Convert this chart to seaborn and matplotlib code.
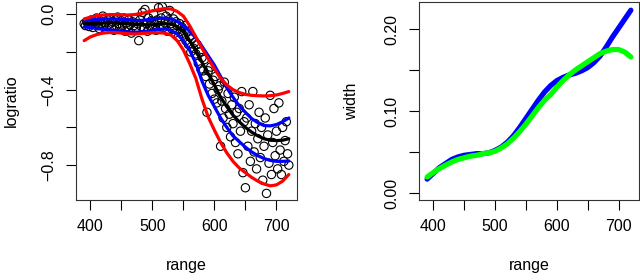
import numpy as np
import pandas as pd
import matplotlib
matplotlib.use("Agg")
import matplotlib.pyplot as plt
import seaborn as sns

# scatter data
range_pts = [
    390, 392, 394, 396, 398, 400, 402, 404, 406, 408,
    410, 412, 414, 416, 418, 420, 422, 424, 426, 428,
    430, 432, 434, 436, 438, 440, 442, 444, 446, 448,
    450, 452, 454, 456, 458, 460, 462, 464, 466, 468,
    470, 472, 474, 476, 478, 480, 482, 484, 486, 488,
    490, 492, 494, 496, 498, 500, 502, 504, 506, 508,
    510, 512, 514, 516, 518, 520, 522, 524, 526, 528,
    530, 532, 534, 536, 538, 540, 542, 544, 546, 548,
    550, 552, 554, 556, 558, 560, 562, 564, 566, 568,
    570, 572, 574, 576, 578, 580, 582, 584, 586, 588,
    590, 592, 594, 596, 598, 600, 602, 604, 606, 608,
    610, 612, 614, 616, 618, 620, 622, 624, 626, 628,
    630, 632, 634, 636, 638, 640, 642, 644, 646, 648,
    650, 652, 654, 656, 658, 660, 662, 664, 666, 668,
    670, 672, 674, 676, 678, 680, 682, 684, 686, 688,
    690, 692, 694, 696, 698, 700, 702, 704, 706, 708,
    710, 712, 714, 716, 718, 720,
]
logratio = [
    -0.05, -0.06, -0.04, -0.045, -0.065, -0.055, -0.03, -0.07, -0.04, -0.05,
    -0.02, -0.06, -0.075, -0.035, -0.05, -0.01, -0.065, -0.045, -0.08, -0.03,
    -0.055, -0.02, -0.07, -0.04, -0.085, -0.03, -0.06, -0.015, -0.05, -0.075,
    -0.035, -0.06, -0.02, -0.09, -0.045, -0.065, -0.03, -0.055, -0.1, -0.04,
    -0.06, -0.025, -0.075, -0.05, -0.14, -0.03, -0.065, 0.01, -0.08, 0.025,
    -0.05, -0.09, -0.02, -0.06, -0.035, -0.075, 0.0, -0.055, -0.085, -0.03,
    0.035, -0.06, -0.02, 0.04, -0.07, -0.045, -0.01, -0.09, -0.03, 0.02,
    -0.05, -0.08, -0.025, -0.1, -0.04, -0.06, -0.12, -0.05, -0.09, -0.07,
    -0.11, -0.06, -0.14, -0.09, -0.16, -0.12, -0.2, -0.13, -0.18, -0.15,
    -0.21, -0.16, -0.26, -0.2, -0.29, -0.23, -0.3, -0.24, -0.33, -0.52,
    -0.3, -0.37, -0.28, -0.42, -0.35, -0.45, -0.33, -0.47, -0.4, -0.38,
    -0.7, -0.46, -0.55, -0.36, -0.5, -0.6, -0.42, -0.53, -0.65, -0.48,
    -0.58, -0.44, -0.68, -0.52, -0.74, -0.5, -0.62, -0.41, -0.84, -0.57,
    -0.92, -0.55, -0.7, -0.48, -0.78, -0.62, -0.41, -0.73, -0.58, -0.82,
    -0.66, -0.52, -0.76, -0.6, -0.88, -0.7, -0.55, -0.95, -0.64, -0.79,
    -0.43, -0.85, -0.68, -0.5, -0.75, -0.62, -0.82, -0.47, -0.72, -0.85,
    -0.6, -0.78, -0.67, -0.57, -0.74, -0.8,
]

# fitted curves on a grid
grid = [390, 400, 410, 420, 430, 440, 450, 460, 470, 480, 490, 500,
        510, 520, 530, 540, 550, 560, 570, 580, 590, 600, 610, 620,
        630, 640, 650, 660, 670, 680, 690, 700, 710, 720]
fit_mean = [-0.05, -0.05, -0.048, -0.046, -0.045, -0.046, -0.048, -0.05,
            -0.053, -0.055, -0.056, -0.056, -0.053, -0.05, -0.052, -0.065,
            -0.094, -0.14, -0.19, -0.255, -0.315, -0.375, -0.44, -0.49,
            -0.535, -0.57, -0.6, -0.625, -0.645, -0.66, -0.668, -0.67,
            -0.668, -0.66]
blue_upper = [-0.032, -0.03, -0.028, -0.026, -0.025, -0.025, -0.027, -0.03,
              -0.032, -0.033, -0.03, -0.026, -0.022, -0.02, -0.025, -0.038,
              -0.06, -0.09, -0.125, -0.17, -0.22, -0.27, -0.33, -0.39,
              -0.44, -0.485, -0.52, -0.553, -0.575, -0.59, -0.592, -0.585,
              -0.57, -0.55]
blue_lower = [-0.067, -0.07, -0.075, -0.08, -0.083, -0.086, -0.09, -0.093,
              -0.095, -0.094, -0.09, -0.085, -0.08, -0.078, -0.085, -0.105,
              -0.14, -0.19, -0.26, -0.355, -0.43, -0.49, -0.55, -0.6,
              -0.645, -0.675, -0.705, -0.73, -0.75, -0.765, -0.775, -0.78,
              -0.78, -0.778]
red_upper = [-0.025, -0.015, -0.008, -0.004, -0.002, -0.002, -0.003, -0.004,
             -0.002, 0.003, 0.01, 0.018, 0.025, 0.03, 0.028, 0.015,
             -0.01, -0.06, -0.12, -0.18, -0.235, -0.29, -0.34, -0.375,
             -0.4, -0.415, -0.425, -0.43, -0.432, -0.433, -0.432, -0.428,
             -0.42, -0.41]
red_lower = [-0.14, -0.12, -0.108, -0.1, -0.097, -0.097, -0.1, -0.103,
             -0.105, -0.103, -0.1, -0.098, -0.098, -0.1, -0.11, -0.14,
             -0.19, -0.26, -0.34, -0.45, -0.545, -0.615, -0.68, -0.735,
             -0.78, -0.815, -0.84, -0.865, -0.885, -0.9, -0.91, -0.905,
             -0.885, -0.85]

width_blue = [0.017, 0.024, 0.031, 0.036, 0.041, 0.044, 0.046, 0.047, 0.048,
              0.048, 0.049, 0.052, 0.056, 0.062, 0.07, 0.08, 0.091, 0.102,
              0.113, 0.123, 0.131, 0.137, 0.141, 0.144, 0.146, 0.149, 0.153,
              0.159, 0.167, 0.178, 0.19, 0.201, 0.212, 0.223]
width_green = [0.0195, 0.025, 0.03, 0.034, 0.038, 0.041, 0.043, 0.045, 0.046,
               0.048, 0.049, 0.051, 0.055, 0.06, 0.067, 0.075, 0.084, 0.094,
               0.104, 0.113, 0.12, 0.129, 0.137, 0.144, 0.15, 0.155, 0.16,
               0.165, 0.17, 0.173, 0.175, 0.175, 0.172, 0.166]

x_ticks = [400, 450, 500, 550, 600, 650, 700]
x_ticklabels = ["400", "", "500", "", "600", "", "700"]
left_yticks = [0.0, -0.2, -0.4, -0.6, -0.8]
left_yticklabels = ["0.0", "", "\u22120.4", "", "\u22120.8"]
right_yticks = [0.0, 0.05, 0.10, 0.15, 0.20]
right_yticklabels = ["0.00", "", "0.10", "", "0.20"]

sns.set_theme(style="white")
plt.rcParams["font.family"] = ["Liberation Sans", "DejaVu Sans"]

fig = plt.figure(figsize=(6.4, 2.8), dpi=100)
ax1 = fig.add_axes([76 / 640, 80 / 280, 221 / 640, 198 / 280])
ax2 = fig.add_axes([419 / 640, 80 / 280, 220 / 640, 198 / 280])

pts = pd.DataFrame({"range": range_pts, "logratio": logratio})
sns.scatterplot(data=pts, x="range", y="logratio", ax=ax1, marker="o",
                s=36, facecolor="none", edgecolor="black", linewidth=0.8)

curves = pd.DataFrame({"range": grid, "mean": fit_mean,
                       "bu": blue_upper, "bl": blue_lower,
                       "ru": red_upper, "rl": red_lower,
                       "wb": width_blue, "wg": width_green})
lw = 2.3
sns.lineplot(data=curves, x="range", y="mean", ax=ax1, color="black", lw=lw)
for col in ["bu", "bl"]:
    sns.lineplot(data=curves, x="range", y=col, ax=ax1, color="#0000FF", lw=lw)
for col in ["ru", "rl"]:
    sns.lineplot(data=curves, x="range", y=col, ax=ax1, color="#FF0000", lw=lw)

sns.lineplot(data=curves, x="range", y="wb", ax=ax2, color="#0000FF", lw=3.8,
             solid_capstyle="round")
sns.lineplot(data=curves, x="range", y="wg", ax=ax2, color="#00FF00", lw=3.8,
             solid_capstyle="round")

ax1.set_xlim(376.8, 733.2)
ax1.set_ylim(-0.985, 0.065)
ax2.set_xlim(376.8, 733.2)
ax2.set_ylim(-0.0085, 0.233)

for ax, yt, ytl, ylab in [(ax1, left_yticks, left_yticklabels, "logratio"),
                          (ax2, right_yticks, right_yticklabels, "width")]:
    ax.set_xticks(x_ticks)
    ax.set_xticklabels(x_ticklabels)
    ax.set_yticks(yt)
    ax.set_yticklabels(ytl, rotation=90, va="center")
    ax.tick_params(axis="both", direction="out", length=7, width=0.8,
                   color="black", labelsize=11.5, labelcolor="black", pad=7,
                   bottom=True, left=True)
    for sp in ax.spines.values():
        sp.set_color("#333333")
        sp.set_linewidth(0.8)
    ax.set_xlabel("range", fontsize=11.5, color="black")
    ax.set_ylabel(ylab, fontsize=11.5, color="black")
    ax.xaxis.set_label_coords(0.5, -0.33)
    ax.xaxis.label.set_va("center")
    ax.yaxis.label.set_va("center")

ax1.yaxis.set_label_coords(-0.294, 0.5)
ax2.yaxis.set_label_coords(-0.305, 0.5)

fig.savefig("out.png", dpi=100)
